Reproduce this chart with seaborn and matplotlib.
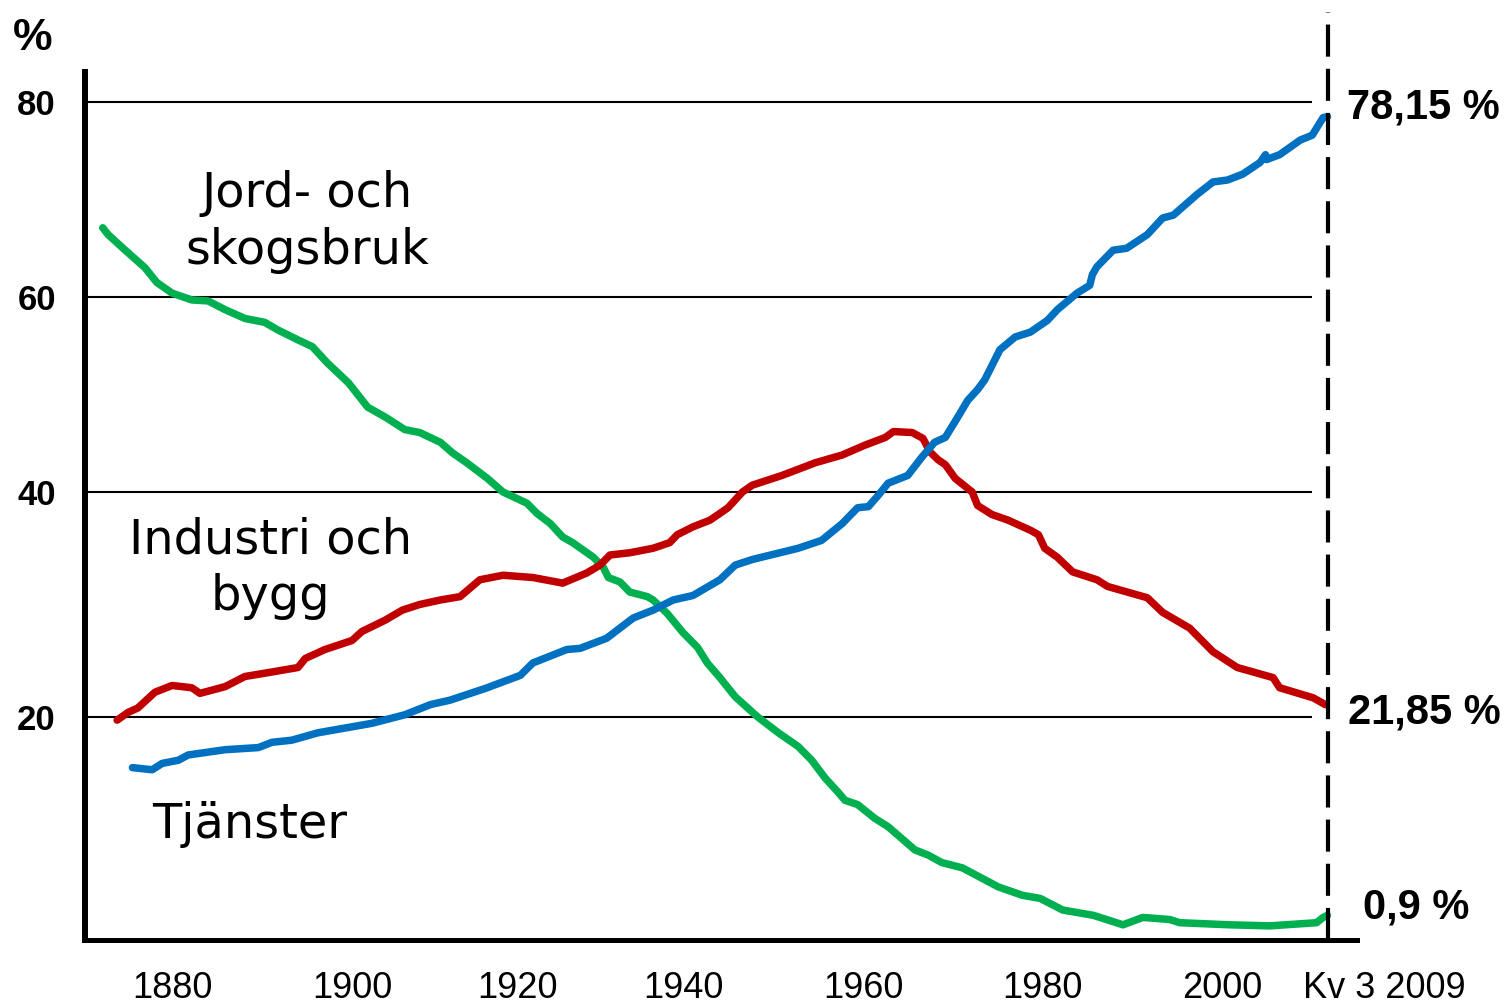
import numpy as np
import matplotlib
matplotlib.use('Agg')
import matplotlib.pyplot as plt
import seaborn as sns

# sysselsatta per sektor, andel i procent
jord_year = [1872.3, 1872.9, 1874.8, 1877.0, 1878.3, 1880.0, 1882.2, 1884.0, 1885.9, 1888.1,
             1890.3, 1891.8, 1894.0, 1895.6, 1897.3, 1899.6, 1901.9, 1904.0, 1906.4, 1908.2,
             1910.7, 1912.2, 1913.9, 1916.4, 1918.3, 1921.2, 1922.4, 1924.0, 1925.5, 1926.7,
             1929.2, 1930.4, 1931.0, 1932.4, 1933.6, 1935.7, 1936.4, 1938.1, 1940.0, 1941.6,
             1942.7, 1944.1, 1945.8, 1948.3, 1950.6, 1952.8, 1954.3, 1955.8, 1957.2, 1958.0,
             1959.4, 1961.3, 1962.8, 1965.8, 1967.3, 1968.8, 1971.1, 1975.1, 1977.8, 1979.8,
             1982.3, 1985.7, 1989.0, 1991.2, 1994.2, 1995.3, 2000.7, 2004.4, 2008.7, 2009.3,
             2009.7]
jord_pct = [67.1, 66.4, 64.8, 63.0, 61.5, 60.4, 59.7, 59.6, 58.7, 57.8,
            57.4, 56.6, 55.6, 54.9, 53.2, 51.2, 48.7, 47.7, 46.4, 46.1,
            45.1, 44.0, 43.0, 41.4, 40.0, 39.0, 38.1, 37.2, 36.0, 35.5,
            34.2, 33.3, 32.4, 32.0, 31.1, 30.7, 30.4, 29.2, 27.5, 26.2,
            24.8, 23.5, 21.8, 20.0, 18.5, 17.2, 15.9, 14.2, 12.9, 12.1,
            11.7, 10.4, 9.6, 7.4, 6.9, 6.2, 5.7, 3.9, 3.1, 2.8,
            1.7, 1.2, 0.3, 1.0, 0.8, 0.5, 0.3, 0.2, 0.5, 1.0,
            1.2]

industri_year = [1873.9, 1875.1, 1876.2, 1878.1, 1880.0, 1882.2, 1883.1, 1885.9, 1888.1, 1891.1,
                 1894.0, 1894.8, 1897.0, 1900.0, 1901.2, 1904.0, 1906.1, 1908.2, 1910.7, 1913.1,
                 1915.5, 1918.3, 1921.9, 1925.5, 1928.4, 1930.0, 1931.2, 1933.6, 1936.4, 1938.4,
                 1939.3, 1941.1, 1943.0, 1944.1, 1945.0, 1946.6, 1947.7, 1951.0, 1954.7, 1957.7,
                 1960.2, 1962.5, 1963.4, 1965.5, 1966.7, 1967.5, 1968.4, 1969.2, 1970.3, 1972.2,
                 1972.8, 1974.4, 1976.2, 1978.7, 1979.6, 1980.3, 1981.7, 1983.4, 1986.1, 1987.3,
                 1991.7, 1993.4, 1996.4, 1999.0, 2001.4, 2004.7, 2005.3, 2008.4, 2009.5]
industri_pct = [19.7, 20.4, 20.8, 22.2, 22.8, 22.6, 22.1, 22.7, 23.6, 24.0,
                24.4, 25.2, 26.0, 26.8, 27.6, 28.6, 29.5, 30.0, 30.4, 30.7,
                32.2, 32.6, 32.4, 31.9, 32.8, 33.5, 34.4, 34.6, 35.0, 35.5,
                36.2, 36.9, 37.5, 38.1, 38.6, 40.0, 40.7, 41.7, 43.0, 43.8,
                44.8, 45.6, 46.2, 46.1, 45.5, 44.1, 43.3, 42.8, 41.4, 40.0,
                38.8, 38.0, 37.5, 36.6, 36.2, 35.0, 34.2, 32.9, 32.2, 31.6,
                30.6, 29.3, 27.9, 25.8, 24.4, 23.5, 22.6, 21.7, 21.1]

tjanster_year = [1875.6, 1877.8, 1878.9, 1880.7, 1881.8, 1885.9, 1889.6, 1891.1, 1893.3, 1896.2,
                 1902.4, 1906.4, 1909.5, 1911.9, 1916.4, 1917.1, 1920.4, 1921.9, 1926.0, 1927.6,
                 1930.8, 1934.0, 1936.4, 1938.8, 1941.1, 1944.1, 1945.8, 1947.7, 1952.8, 1955.4,
                 1957.7, 1959.4, 1960.6, 1961.7, 1962.8, 1965.0, 1966.6, 1968.0, 1969.2, 1970.6,
                 1971.7, 1972.8, 1973.6, 1975.3, 1977.0, 1978.7, 1980.6, 1981.7, 1983.9, 1985.3,
                 1985.6, 1986.1, 1987.9, 1989.4, 1991.7, 1993.4, 1994.6, 1997.2, 1999.0, 2000.5,
                 2001.9, 2003.5, 2004.0, 2004.1, 2005.3, 2007.2, 2008.3, 2009.3, 2009.7]
tjanster_pct = [15.2, 15.0, 15.6, 15.9, 16.4, 16.9, 17.1, 17.6, 17.8, 18.5,
                19.4, 20.2, 21.1, 21.5, 22.6, 22.8, 23.7, 24.8, 26.0, 26.1,
                27.0, 28.8, 29.5, 30.4, 30.8, 32.2, 33.5, 34.0, 35.0, 35.7,
                37.2, 38.6, 38.7, 39.7, 40.9, 41.7, 43.6, 45.1, 45.6, 47.7,
                49.4, 50.5, 51.5, 54.6, 55.9, 56.4, 57.6, 58.7, 60.4, 61.2,
                62.3, 63.1, 64.8, 65.0, 66.4, 68.1, 68.4, 70.5, 71.8, 72.0,
                72.6, 73.8, 74.6, 74.1, 74.6, 76.1, 76.6, 78.4, 78.5]

year_ticks = [1880, 1900, 1920, 1940, 1960, 1980, 2000]
pct_ticks = [20, 40, 60, 80]
end_labels = ['78,15 %', '21,85 %', '0,9 %']

# originalbilden har ojämna avstånd mellan stegen -> styckvis linjär skala
x_knots = [1860, 1880, 1900, 1920, 1940, 1960, 1980, 2000, 2009.75, 2030]
x_pos = [-8, 172, 352, 517, 683, 863, 1042, 1222, 1328, 1548]
y_knots = [-20, 0, 20, 40, 60, 80, 100]
y_pos = [-199, 12, 223, 448, 643, 838, 1033]

sns.set_theme(style='white')
plt.rcParams['font.family'] = ['Liberation Sans', 'DejaVu Sans']
plt.rcParams['text.color'] = 'black'
plt.rcParams['xtick.color'] = 'black'
plt.rcParams['ytick.color'] = 'black'

fig = plt.figure(figsize=(15.06, 10.06), dpi=100)
ax = fig.add_axes([85 / 1506, 66 / 1006, 1272 / 1506, 868 / 1006])

ax.set_xscale('function', functions=(lambda v: np.interp(v, x_knots, x_pos),
                                     lambda p: np.interp(p, x_pos, x_knots)))
ax.set_yscale('function', functions=(lambda v: np.interp(v, y_knots, y_pos),
                                     lambda p: np.interp(p, y_pos, y_knots)))

# stödlinjer
ax.hlines(pct_ticks, 1870.33, 2008.3, color='black', lw=1.5, zorder=1)

line_kw = dict(lw=5.4, sort=False, estimator=None, ax=ax,
               solid_capstyle='round', solid_joinstyle='round', zorder=3)
sns.lineplot(x=jord_year, y=jord_pct, color='#00B050', **line_kw)
sns.lineplot(x=industri_year, y=industri_pct, color='#C00000', **line_kw)
sns.lineplot(x=tjanster_year, y=tjanster_pct, color='#0070C0', **line_kw)

ax.set_xlim(1870.33, 2012.42)
ax.set_ylim(-1.14, 83.08)

# streckad linje vid Kv 3 2009
ax.axvline(2009.75, ymin=0, ymax=1.069, color='black', lw=3,
           ls=(0, (7.7, 2.9)), clip_on=False, zorder=4)

for side in ['top', 'right']:
    ax.spines[side].set_visible(False)
ax.spines['left'].set_linewidth(4.3)
ax.spines['bottom'].set_linewidth(3.6)
ax.spines['left'].set_color('black')
ax.spines['bottom'].set_color('black')

ax.set_xticks(year_ticks)
ax.set_xticklabels([str(y) for y in year_ticks], fontsize=26)
ax.set_yticks(pct_ticks)
ax.set_yticklabels([str(p) for p in pct_ticks], fontsize=25, fontweight='bold')
ax.tick_params(axis='x', length=0, pad=22)
ax.tick_params(axis='y', length=0, pad=21)
ax.set_xlabel('')
ax.set_ylabel('')

ax.text(2007.45, -0.0555, 'Kv 3 2009', transform=ax.get_xaxis_transform(),
        ha='left', va='center', fontsize=26)

# etiketter för serierna
ax.text(1895.0, 67.7, 'Jord- och\nskogsbruk', ha='center', va='center',
        fontsize=34.5, family='DejaVu Sans', linespacing=1.27)
ax.text(1890.9, 33.2, 'Industri och\nbygg', ha='center', va='center',
        fontsize=34.5, family='DejaVu Sans', linespacing=1.27)
ax.text(1888.6, 9.8, 'Tjänster', ha='center', va='center',
        fontsize=34.5, family='DejaVu Sans')

# slutvärden till höger
ax.text(2011.5, 79.4, end_labels[0], ha='left', va='center', fontsize=30, fontweight='bold')
ax.text(2011.6, 20.4, end_labels[1], ha='left', va='center', fontsize=30, fontweight='bold')
ax.text(2013.0, 1.9, end_labels[2], ha='left', va='center', fontsize=30, fontweight='bold')

fig.text(33 / 1506, 1 - 38 / 1006, '%', ha='center', va='center', fontsize=32, fontweight='bold')

fig.savefig('out.png', dpi=100)
